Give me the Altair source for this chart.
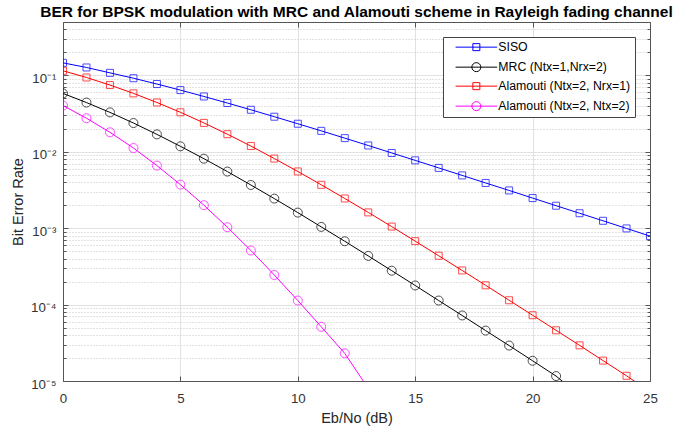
import altair as alt
import pandas as pd

# Eb/No sweep in dB
snr_db = list(range(26))

# Simulated bit error rates for each scheme (points below 1e-5 fall off the plot)
ber_siso = [0.146, 0.127, 0.108, 0.0919, 0.0771, 0.0642, 0.0530, 0.0435, 0.0355,
            0.0288, 0.0233, 0.0188, 0.0151, 0.0121, 0.00966, 0.00772, 0.00616,
            0.00491, 0.00391, 0.00312, 0.00248, 0.00197, 0.00157, 0.00125,
            0.000993, 0.000789]
ber_mrc = [0.0581, 0.0441, 0.0328, 0.0238, 0.0169, 0.0118, 0.00813, 0.00551,
           0.00368, 0.00244, 0.00160, 0.00104, 0.000675, 0.000434, 0.000278,
           0.000178, 0.000113, 7.21e-5, 4.57e-5, 2.91e-5, 1.84e-5, 1.16e-5, 6.5e-6]
ber_alamouti_2x1 = [0.115, 0.0939, 0.0748, 0.0582, 0.0442, 0.0329, 0.0239, 0.0170,
                    0.0119, 0.00816, 0.00553, 0.00370, 0.00245, 0.00161, 0.00105,
                    0.000677, 0.000436, 0.000280, 0.000179, 0.000114, 7.26e-5,
                    4.61e-5, 2.93e-5, 1.85e-5, 1.17e-5, 7.2e-6]
ber_alamouti_2x2 = [0.0403, 0.0275, 0.0180, 0.0112, 0.00660, 0.00372, 0.00200,
                    0.00103, 0.000511, 0.000244, 0.000113, 5.12e-5, 2.3e-5, 8.0e-6]

series_names = ["SISO", "\u00a0MRC (Ntx=1,Nrx=2)", "Alamouti (Ntx=2, Nrx=1)",
                "Alamouti (Ntx=2, Ntx=2)"]
series_colors = ["#0000ff", "#000000", "#ff0000", "#ff00ff"]
square_series = [series_names[0], series_names[2]]
circle_series = [series_names[1], series_names[3]]

x_ticks = [0, 5, 10, 15, 20, 25]
y_ticks = [1e-5, 1e-4, 1e-3, 1e-2, 1e-1]
y_tick_labels = ["10\u207b\u2075", "10\u207b\u2074", "10\u207b\u00b3",
                 "10\u207b\u00b2", "10\u207b\u00b9"]
y_minor = [m * 10.0 ** e for e in range(-5, -1) for m in range(2, 10)] + [0.2, 0.3, 0.4]

W, H = 587, 359
FONT = "Liberation Sans"
AXIS_GRAY = "#555555"

frames = []
for name, values in zip(series_names,
                        [ber_siso, ber_mrc, ber_alamouti_2x1, ber_alamouti_2x2]):
    frames.append(pd.DataFrame({"snr": snr_db[:len(values)], "ber": values,
                                "series": name}))
df = pd.concat(frames, ignore_index=True)

x_scale = alt.Scale(domain=[0, 25], nice=False, zero=False)
y_scale = alt.Scale(type="log", domain=[1e-5, 0.5], nice=False)
color_scale = alt.Scale(domain=series_names, range=series_colors)

label_js = "[" + ",".join("'%s'" % s for s in y_tick_labels) + "]"
y_label_expr = label_js + "[round(log(datum.value) / LN10) + 5]"

# legend glyphs: a line segment with the marker drawn over its middle
square_glyph = "M0.48,0H8.8M3.94,-0.7H5.34V0.7H3.94Z"
circle_glyph = "M0.48,0H8.8M3.74,0A0.9,0.9,0,1,0,5.54,0A0.9,0.9,0,1,0,3.74,0"
legend_glyphs = [square_glyph, circle_glyph, square_glyph, circle_glyph]


def bare_axis(**kw):
    opts = dict(labels=False, domain=False, grid=False, title=None,
                tickColor=AXIS_GRAY, tickWidth=1)
    opts.update(kw)
    return alt.Axis(**opts)


base = alt.Chart(df)

x_main = alt.Axis(orient="bottom", values=x_ticks, title="Eb/No (dB)", ticks=False,
                  labelPadding=10, labelFont=FONT, labelFontSize=13.3,
                  labelColor="#333333", labelFlush=False, labelOverlap=False,
                  format="d", domainColor=AXIS_GRAY, domainWidth=1,
                  grid=True, gridColor="#e2e2e2", gridWidth=1,
                  titleFont=FONT, titleFontSize=14.5, titleFontWeight="normal",
                  titleColor="#262626", titleY=41, titleBaseline="alphabetic")
y_main = alt.Axis(orient="left", values=y_ticks, labelExpr=y_label_expr,
                  title="Bit Error Rate", ticks=False, labelPadding=7,
                  labelOffset=3, labelFont=FONT, labelFontSize=13.3,
                  labelColor="#333333", labelFlush=False, labelOverlap=False,
                  domainColor=AXIS_GRAY, domainWidth=1,
                  grid=True, gridColor="#e2e2e2", gridWidth=1,
                  titleFont=FONT, titleFontSize=14.5, titleFontWeight="normal",
                  titleColor="#262626", titleX=-41, titleY=H / 2, titleAngle=270,
                  titleAlign="center", titleBaseline="alphabetic")

# legend carrier: invisible points whose color + shape legends merge into one box
legend_opts = dict(orient="none", legendX=380, legendY=15, title=None, padding=4,
                   fillColor="white", strokeColor="#444444", cornerRadius=0,
                   labelFont=FONT, labelFontSize=12.3, labelColor="#000000",
                   labelOffset=39, symbolSize=100, symbolStrokeWidth=1,
                   symbolOpacity=1, rowPadding=6, labelLimit=300)
legend_layer = base.mark_point(opacity=0, filled=False, strokeWidth=1).encode(
    x=alt.X("snr:Q", scale=x_scale, axis=None),
    y=alt.Y("ber:Q", scale=y_scale, axis=None),
    color=alt.Color("series:N", scale=color_scale, legend=alt.Legend(**legend_opts)),
    shape=alt.Shape("series:N",
                    scale=alt.Scale(domain=series_names, range=legend_glyphs),
                    legend=alt.Legend(**legend_opts)),
)

lines = base.mark_line(strokeWidth=1, clip=True).encode(
    x=alt.X("snr:Q", scale=x_scale, axis=x_main),
    y=alt.Y("ber:Q", scale=y_scale, axis=y_main),
    color=alt.Color("series:N", scale=color_scale, legend=None),
)

# dotted minor grid on the log axis
minor_grid = base.mark_point(opacity=0).encode(
    y=alt.Y("ber:Q", scale=y_scale,
            axis=bare_axis(orient="left", values=y_minor, ticks=False, grid=True,
                           gridColor="#c4c4c4", gridDash=[1, 2], gridWidth=1)),
)

# inward major ticks along the bottom and left edges
ticks_bl = base.mark_point(opacity=0).encode(
    x=alt.X("snr:Q", scale=x_scale,
            axis=bare_axis(orient="top", offset=-H, values=x_ticks, tickSize=5)),
    y=alt.Y("ber:Q", scale=y_scale,
            axis=bare_axis(orient="right", offset=-W, values=y_ticks, tickSize=5)),
)
# inward major ticks plus frame along the top and right edges
ticks_tr = base.mark_point(opacity=0).encode(
    x=alt.X("snr:Q", scale=x_scale,
            axis=bare_axis(orient="bottom", offset=-H, values=x_ticks, tickSize=5,
                           domain=True, domainColor=AXIS_GRAY, domainWidth=1)),
    y=alt.Y("ber:Q", scale=y_scale,
            axis=bare_axis(orient="left", offset=-W, values=y_ticks, tickSize=5,
                           domain=True, domainColor=AXIS_GRAY, domainWidth=1)),
)
# short minor ticks on both vertical edges
minor_left = base.mark_point(opacity=0).encode(
    y=alt.Y("ber:Q", scale=y_scale,
            axis=bare_axis(orient="right", offset=-W, values=y_minor, tickSize=3)),
)
minor_right = base.mark_point(opacity=0).encode(
    y=alt.Y("ber:Q", scale=y_scale,
            axis=bare_axis(orient="left", offset=-W, values=y_minor, tickSize=3)),
)

squares = base.transform_filter(
    alt.FieldOneOfPredicate(field="series", oneOf=square_series)
).mark_point(shape="square", size=49, filled=False, strokeWidth=1, clip=True).encode(
    x=alt.X("snr:Q", scale=x_scale, axis=None),
    y=alt.Y("ber:Q", scale=y_scale, axis=None),
    color=alt.Color("series:N", scale=color_scale, legend=None),
)
circles = base.transform_filter(
    alt.FieldOneOfPredicate(field="series", oneOf=circle_series)
).mark_point(shape="circle", size=81, filled=False, strokeWidth=1, clip=True).encode(
    x=alt.X("snr:Q", scale=x_scale, axis=None),
    y=alt.Y("ber:Q", scale=y_scale, axis=None),
    color=alt.Color("series:N", scale=color_scale, legend=None),
)

chart = alt.layer(
    legend_layer, lines, minor_grid, ticks_bl, ticks_tr, minor_left, minor_right,
    squares, circles,
).resolve_axis(
    x="independent", y="independent"
).properties(
    width=W, height=H,
    title=alt.Title("BER for BPSK modulation with MRC and Alamouti scheme in Rayleigh fading channel",
                    font=FONT, fontSize=15.5, fontWeight="bold", color="#000000",
                    anchor="middle", frame="group", baseline="alphabetic",
                    offset=4, dy=15),
    padding={"left": 63, "top": 22, "right": 27, "bottom": 51},
    autosize=alt.AutoSizeParams(type="none"),
).configure_view(stroke=None).configure(background="white")

chart.save("out.html", embed_options={"renderer": "svg", "actions": False})
